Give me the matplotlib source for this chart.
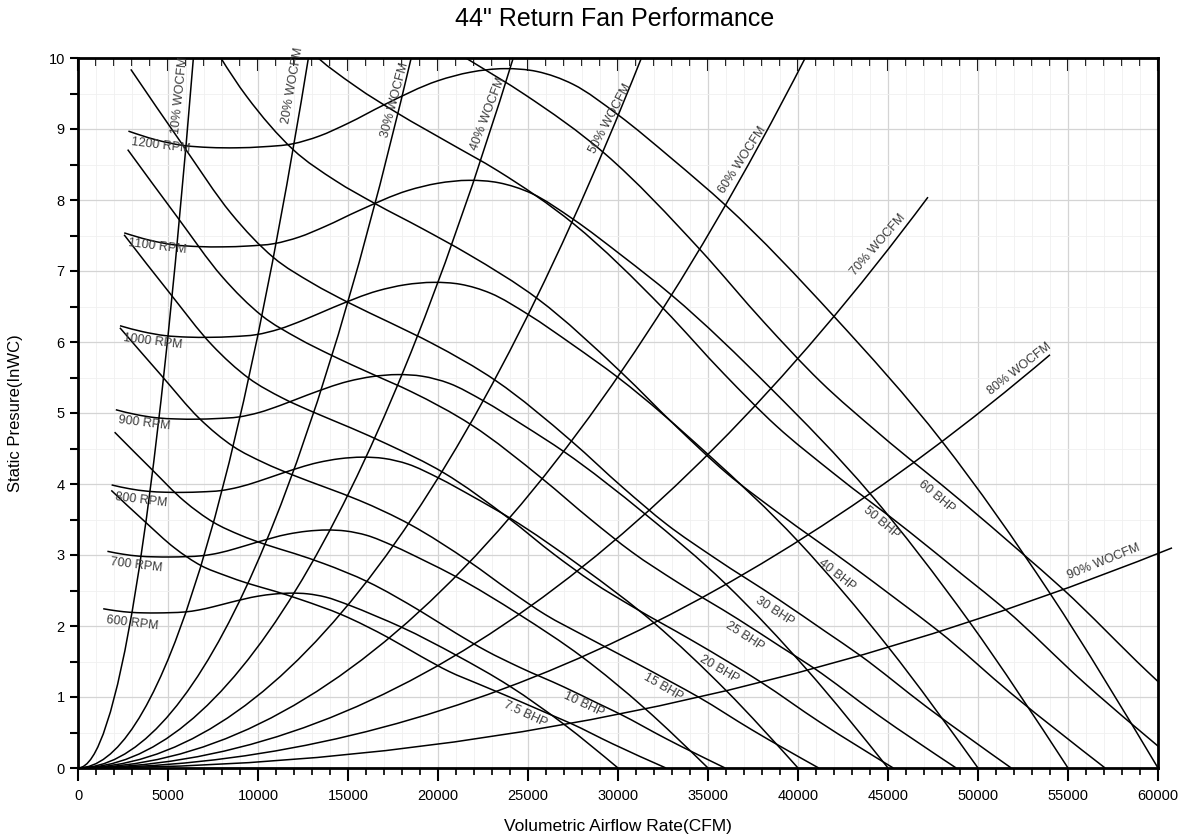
import numpy as np
import matplotlib.pyplot as plt
from matplotlib.path import Path
from matplotlib.patches import PathPatch
from matplotlib.ticker import MultipleLocator

plt.rcParams['font.family'] = ['Liberation Sans', 'DejaVu Sans']

# fan speed curves (CFM, in. WC)
rpm_names = ['600 RPM', '700 RPM', '800 RPM', '900 RPM', '1000 RPM', '1100 RPM', '1200 RPM']
rpm_600_x = [1400, 2150, 2900, 3650, 4400, 5150, 5950, 6700, 7500, 8500, 10000,
             10900, 11850, 12750, 13750, 15000, 16500, 18000, 21000, 24000, 27000, 30000]
rpm_600_y = [2.243, 2.213, 2.193, 2.185, 2.184, 2.188, 2.198, 2.225, 2.270, 2.335, 2.420,
             2.450, 2.463, 2.453, 2.408, 2.300, 2.145, 1.980, 1.590, 1.150, 0.615, 0.0]
rpm_700_x = [1633, 2508, 3383, 4258, 5133, 6008, 6942, 7817, 8750, 9917, 11667,
             12717, 13825, 14875, 16042, 17500, 19250, 21000, 24500, 28000, 31500, 35000]
rpm_700_y = [3.052, 3.011, 2.984, 2.974, 2.972, 2.977, 2.991, 3.028, 3.090, 3.178, 3.294,
             3.335, 3.352, 3.338, 3.277, 3.131, 2.920, 2.695, 2.164, 1.565, 0.837, 0.0]
rpm_800_x = [1867, 2867, 3867, 4867, 5867, 6867, 7933, 8933, 10000, 11333, 13333,
             14533, 15800, 17000, 18333, 20000, 22000, 24000, 28000, 32000, 36000, 40000]
rpm_800_y = [3.987, 3.933, 3.898, 3.884, 3.882, 3.889, 3.907, 3.956, 4.036, 4.151, 4.302,
             4.356, 4.378, 4.360, 4.280, 4.089, 3.813, 3.520, 2.827, 2.044, 1.093, 0.0]
rpm_900_x = [2100, 3225, 4350, 5475, 6600, 7725, 8925, 10050, 11250, 12750, 15000,
             16350, 17775, 19125, 20625, 22500, 24750, 27000, 31500, 36000, 40500, 45000]
rpm_900_y = [5.046, 4.978, 4.933, 4.916, 4.913, 4.922, 4.944, 5.006, 5.108, 5.254, 5.445,
             5.513, 5.541, 5.518, 5.417, 5.175, 4.826, 4.455, 3.578, 2.588, 1.384, 0.0]
rpm_1000_x = [2333, 3583, 4833, 6083, 7333, 8583, 9917, 11167, 12500, 14167, 16667,
              18167, 19750, 21250, 22917, 25000, 27500, 30000, 35000, 40000, 45000, 50000]
rpm_1000_y = [6.229, 6.146, 6.090, 6.069, 6.066, 6.076, 6.104, 6.181, 6.306, 6.486, 6.722,
              6.806, 6.840, 6.813, 6.687, 6.389, 5.958, 5.500, 4.417, 3.194, 1.708, 0.0]
rpm_1100_x = [2567, 3942, 5317, 6692, 8067, 9442, 10908, 12283, 13750, 15583, 18333,
              19983, 21725, 23375, 25208, 27500, 30250, 33000, 38500, 44000, 49500, 55000]
rpm_1100_y = [7.537, 7.436, 7.369, 7.344, 7.340, 7.352, 7.386, 7.478, 7.630, 7.848, 8.134,
              8.235, 8.277, 8.243, 8.092, 7.731, 7.210, 6.655, 5.344, 3.865, 2.067, 0.0]
rpm_1200_x = [2800, 4300, 5800, 7300, 8800, 10300, 11900, 13400, 15000, 17000, 20000,
              21800, 23700, 25500, 27500, 30000, 33000, 36000, 42000, 48000, 54000, 60000]
rpm_1200_y = [8.970, 8.850, 8.770, 8.740, 8.735, 8.750, 8.790, 8.900, 9.080, 9.340, 9.680,
              9.800, 9.850, 9.810, 9.630, 9.200, 8.580, 7.920, 6.360, 4.600, 2.460, 0.0]

# brake horsepower lines
bhp_names = ['7.5 BHP', '10 BHP', '15 BHP', '20 BHP', '25 BHP', '30 BHP', '40 BHP', '50 BHP', '60 BHP']
bhp_7_5_x = [1848, 3673, 5361, 6841, 8196, 9443, 10936, 12397, 14642, 17282, 19071, 20610, 22279, 24535, 26168, 27359, 29705, 32663]
bhp_7_5_y = [3.91, 3.48, 3.10, 2.85, 2.71, 2.60, 2.49, 2.37, 2.16, 1.83, 1.57, 1.36, 1.18, 0.94, 0.76, 0.63, 0.34, 0.0]
bhp_10_x = [2034, 4043, 5901, 7530, 9021, 10393, 12036, 13645, 16115, 19021, 20991, 22684, 24521, 27005, 28802, 30112, 32694, 35950]
bhp_10_y = [4.73, 4.22, 3.76, 3.46, 3.28, 3.15, 3.02, 2.88, 2.62, 2.21, 1.90, 1.65, 1.42, 1.14, 0.92, 0.76, 0.41, 0.0]
bhp_15_x = [2328, 4627, 6754, 8619, 10326, 11897, 13777, 15618, 18446, 21773, 24027, 25965, 28068, 30911, 32968, 34468, 37423, 41150]
bhp_15_y = [6.20, 5.53, 4.92, 4.53, 4.30, 4.13, 3.95, 3.77, 3.43, 2.90, 2.49, 2.16, 1.87, 1.49, 1.21, 1.00, 0.54, 0.0]
bhp_20_x = [2562, 5093, 7434, 9486, 11366, 13094, 15164, 17191, 20303, 23965, 26446, 28579, 30894, 34022, 36287, 37938, 41190, 45293]
bhp_20_y = [7.51, 6.69, 5.96, 5.49, 5.21, 5.01, 4.79, 4.56, 4.16, 3.51, 3.01, 2.62, 2.26, 1.81, 1.47, 1.21, 0.65, 0.0]
bhp_25_x = [2760, 5486, 8008, 10218, 12242, 14105, 16334, 18517, 21870, 25814, 28486, 30784, 33278, 36647, 39086, 40865, 44368, 48787]
bhp_25_y = [8.71, 7.77, 6.92, 6.37, 6.05, 5.81, 5.55, 5.30, 4.83, 4.07, 3.50, 3.04, 2.62, 2.10, 1.70, 1.41, 0.76, 0.0]
bhp_30_x = [2933, 5830, 8510, 10859, 13010, 14989, 17358, 19678, 23241, 27432, 30272, 32714, 35364, 38945, 41537, 43427, 47150, 51846]
bhp_30_y = [9.84, 8.77, 7.81, 7.19, 6.83, 6.56, 6.27, 5.98, 5.45, 4.60, 3.95, 3.43, 2.96, 2.37, 1.92, 1.59, 0.86, 0.0]
bhp_40_x = [3228, 6416, 9366, 11951, 14319, 16497, 19104, 21658, 25579, 30191, 33317, 36005, 38922, 42863, 45716, 47796, 51893, 57062]
bhp_40_y = [11.92, 10.62, 9.46, 8.71, 8.27, 7.95, 7.60, 7.24, 6.60, 5.57, 4.79, 4.16, 3.59, 2.87, 2.33, 1.93, 1.04, 0.0]
bhp_50_x = [3477, 6912, 10089, 12874, 15425, 17771, 20580, 23330, 27555, 32523, 35890, 38786, 41928, 46173, 49246, 51487, 55901, 61469]
bhp_50_y = [13.83, 12.33, 10.98, 10.11, 9.60, 9.22, 8.81, 8.41, 7.66, 6.47, 5.55, 4.82, 4.16, 3.33, 2.70, 2.24, 1.20, 0.0]
bhp_60_x = [3695, 7345, 10722, 13681, 16391, 18885, 21869, 24792, 29281, 34562, 38140, 41217, 44555, 49067, 52333, 54714, 59404, 65321]
bhp_60_y = [15.62, 13.92, 12.40, 11.41, 10.84, 10.41, 9.95, 9.49, 8.65, 7.30, 6.27, 5.45, 4.70, 3.76, 3.05, 2.52, 1.36, 0.0]

# system curves: end point of each % wide-open CFM parabola
wo_names = ['10% WOCFM', '20% WOCFM', '30% WOCFM', '40% WOCFM', '50% WOCFM',
            '60% WOCFM', '70% WOCFM', '80% WOCFM', '90% WOCFM']
wo_end_x = [6410, 12800, 18510, 24180, 31300, 40400, 47220, 54000, 60780]
wo_end_y = [10.0, 10.0, 10.0, 10.0, 10.0, 10.0, 8.04, 5.82, 3.10]


def smooth_path(xs, ys):
    """Cubic Hermite curve through the points, written as Bezier segments."""
    x = np.asarray(xs, float)
    y = np.asarray(ys, float)
    h = np.diff(x)
    s = np.diff(y) / h
    m = np.empty_like(x)
    m[1:-1] = (h[1:] * s[:-1] + h[:-1] * s[1:]) / (h[:-1] + h[1:])
    m[0] = (3 * s[0] - m[1]) / 2
    m[-1] = (3 * s[-1] - m[-2]) / 2
    verts = [(x[0], y[0])]
    codes = [Path.MOVETO]
    for i in range(len(x) - 1):
        verts += [(x[i] + h[i] / 3, y[i] + m[i] * h[i] / 3),
                  (x[i + 1] - h[i] / 3, y[i + 1] - m[i + 1] * h[i] / 3),
                  (x[i + 1], y[i + 1])]
        codes += [Path.CURVE4] * 3
    return Path(verts, codes)


fig = plt.figure(figsize=(11.88, 8.4), dpi=100)
ax = fig.add_axes([78 / 1188, 72 / 840, 1080 / 1188, 710 / 840])

line_kw = dict(fill=False, edgecolor='black', linewidth=1.1)

rpm_curves = [(rpm_600_x, rpm_600_y), (rpm_700_x, rpm_700_y), (rpm_800_x, rpm_800_y),
              (rpm_900_x, rpm_900_y), (rpm_1000_x, rpm_1000_y), (rpm_1100_x, rpm_1100_y),
              (rpm_1200_x, rpm_1200_y)]
for xs, ys in rpm_curves:
    ax.add_patch(PathPatch(smooth_path(xs, ys), **line_kw))

bhp_curves = [(bhp_7_5_x, bhp_7_5_y), (bhp_10_x, bhp_10_y), (bhp_15_x, bhp_15_y),
              (bhp_20_x, bhp_20_y), (bhp_25_x, bhp_25_y), (bhp_30_x, bhp_30_y),
              (bhp_40_x, bhp_40_y), (bhp_50_x, bhp_50_y), (bhp_60_x, bhp_60_y)]
for xs, ys in bhp_curves:
    ax.add_patch(PathPatch(smooth_path(xs, ys), **line_kw))

# system curves are parabolas through the origin
for xe, ye in zip(wo_end_x, wo_end_y):
    p = Path([(0, 0), (xe / 2, 0), (xe, ye)], [Path.MOVETO, Path.CURVE3, Path.CURVE3])
    ax.add_patch(PathPatch(p, clip_on=False, **line_kw))

lab_kw = dict(fontsize=9, color='#3a3a3a', ha='center', va='center', rotation_mode='anchor')

rpm_lab_x = [3000, 3222, 3500, 3667, 4167, 4389, 4611]
rpm_lab_y = [2.04, 2.85, 3.77, 4.85, 6.01, 7.34, 8.76]
for name, x, y in zip(rpm_names, rpm_lab_x, rpm_lab_y):
    ax.text(x, y, name, rotation=-7, **lab_kw)

bhp_lab_x = [24833, 28111, 32500, 35611, 37056, 38722, 42167, 44611, 47667]
bhp_lab_y = [0.76, 0.90, 1.14, 1.39, 1.86, 2.21, 2.72, 3.45, 3.82]
bhp_lab_rot = [-25, -25, -30, -30, -33, -33, -38, -40, -40]
for name, x, y, r in zip(bhp_names, bhp_lab_x, bhp_lab_y, bhp_lab_rot):
    ax.text(x, y, name, rotation=r, **lab_kw)

wo_lab_x = [5667, 11944, 17611, 22778, 29556, 36944, 44444, 52333, 57000]
wo_lab_y = [9.48, 9.62, 9.41, 9.21, 9.15, 8.56, 7.37, 5.62, 2.90]
wo_lab_rot = [84, 80, 75, 69, 62, 57, 49, 38, 22]
for name, x, y, r in zip(wo_names, wo_lab_x, wo_lab_y, wo_lab_rot):
    ax.text(x, y, name, rotation=r, clip_on=False, **lab_kw)

ax.set_xlim(0, 60000)
ax.set_ylim(0, 10)
ax.xaxis.set_major_locator(MultipleLocator(5000))
ax.xaxis.set_minor_locator(MultipleLocator(1000))
ax.yaxis.set_major_locator(MultipleLocator(1))
ax.yaxis.set_minor_locator(MultipleLocator(0.5))
ax.grid(which='major', color='#d4d4d4', linewidth=0.9)
ax.grid(which='minor', color='#f0f0f0', linewidth=0.6)
ax.set_axisbelow(True)

ax.tick_params(axis='x', which='major', direction='out', length=9, width=1.5, labelsize=10.5, pad=6)
ax.tick_params(axis='x', which='minor', direction='out', length=5, width=1.2)
ax.tick_params(axis='y', which='both', direction='out', length=6, width=1.5, labelsize=10.5)
for s in ax.spines.values():
    s.set_linewidth(2)

top = ax.secondary_xaxis('top')
top.xaxis.set_major_locator(MultipleLocator(5000))
top.xaxis.set_minor_locator(MultipleLocator(1000))
top.tick_params(which='major', direction='in', length=9, width=1.5, labeltop=False)
top.tick_params(which='minor', direction='in', length=6, width=1.2)

ax.set_xlabel('Volumetric Airflow Rate(CFM)', fontsize=12.5, labelpad=12)
ax.set_ylabel('Static Presure(InWC)', fontsize=12, labelpad=18)
fig.text(615 / 1188, 1 - 19 / 840, '44" Return Fan Performance', fontsize=18,
         ha='center', va='center')

fig.savefig('out.png', dpi=100)
